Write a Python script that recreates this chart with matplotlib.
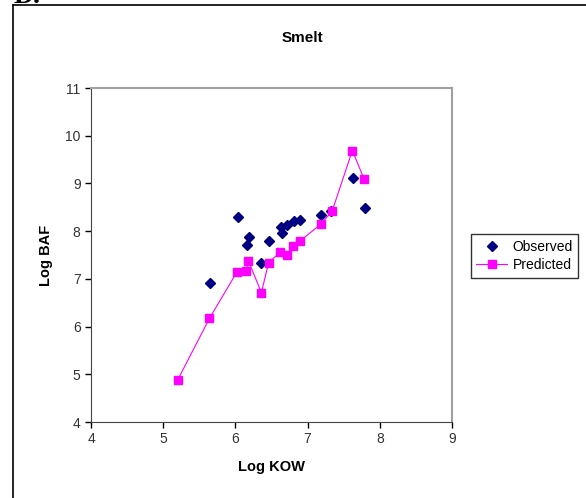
import matplotlib
matplotlib.use("Agg")
import matplotlib.pyplot as plt
from matplotlib.lines import Line2D

plt.rcParams["font.family"] = ["Liberation Sans", "DejaVu Sans"]

# Observed
obs_kow = [5.65, 6.03, 6.19, 6.16, 6.47, 6.36, 6.63, 6.65, 6.72, 6.81, 6.90, 7.18, 7.33, 7.63, 7.79]
obs_baf = [6.92, 8.29, 7.87, 7.70, 7.80, 7.33, 8.09, 7.96, 8.12, 8.22, 8.24, 8.34, 8.42, 9.12, 8.48]

# Predicted
pred_kow = [5.20, 5.64, 6.02, 6.15, 6.18, 6.36, 6.46, 6.62, 6.71, 6.80, 6.89, 7.18, 7.34, 7.62, 7.78]
pred_baf = [4.88, 6.17, 7.14, 7.17, 7.38, 6.71, 7.34, 7.56, 7.49, 7.68, 7.79, 8.14, 8.42, 9.69, 9.10]

x_ticks = [4, 5, 6, 7, 8, 9]
y_ticks = [4, 5, 6, 7, 8, 9, 10, 11]

W, H = 586, 498
fig = plt.figure(figsize=(W / 100, H / 100), dpi=100)
ax = fig.add_axes([91 / W, 1 - 422 / H, (452 - 91) / W, (422 - 88) / H])

ax.plot(obs_kow, obs_baf, linestyle="none", marker="D", markersize=4.8,
        color="#000080", label="Observed", zorder=3)
ax.plot(pred_kow, pred_baf, color="#ff00ff", linewidth=0.8, marker="s",
        markersize=6, label="Predicted", zorder=4)

ax.set_xlim(4, 9)
ax.set_ylim(4, 11)
ax.set_xticks(x_ticks)
ax.set_yticks(y_ticks)
ax.tick_params(direction="out", length=4, width=1, labelsize=10,
               colors="black", labelcolor="#333333")
for s in ["left", "bottom"]:
    ax.spines[s].set_color("#444444")
for s in ["top", "right"]:
    ax.spines[s].set_color("#a0a0a0")
    ax.spines[s].set_linewidth(1.5)

ax.set_xlabel("Log KOW", fontsize=10.5, fontweight="bold", labelpad=10)
ax.set_ylabel("Log BAF", fontsize=10.5, fontweight="bold", labelpad=9)
fig.text(302 / W, 1 - 38 / H, "Smelt", fontsize=11, fontweight="bold",
         ha="center", va="center")

leg = ax.legend(loc="center", bbox_to_anchor=(524.5 / W, 1 - 256 / H),
                bbox_transform=fig.transFigure, fontsize=10, frameon=True,
                fancybox=False, handlelength=2.2, borderpad=0.4,
                labelspacing=0.3, handletextpad=0.4)
leg.get_frame().set_edgecolor("black")
leg.get_frame().set_linewidth(1)

# outer frame, partly cut off
fig.add_artist(Line2D([12.5 / W, 12.5 / W], [0, 1 - 5 / H], color="black", linewidth=1.2))
fig.add_artist(Line2D([12.5 / W, 1], [1 - 5 / H, 1 - 5 / H], color="black", linewidth=1.2))
fig.text(14 / W, 1 - 3 / H, "D.", fontsize=20, fontweight="bold",
         family="Liberation Serif", ha="left", va="baseline")

fig.savefig("out.png", dpi=100, facecolor="white")
